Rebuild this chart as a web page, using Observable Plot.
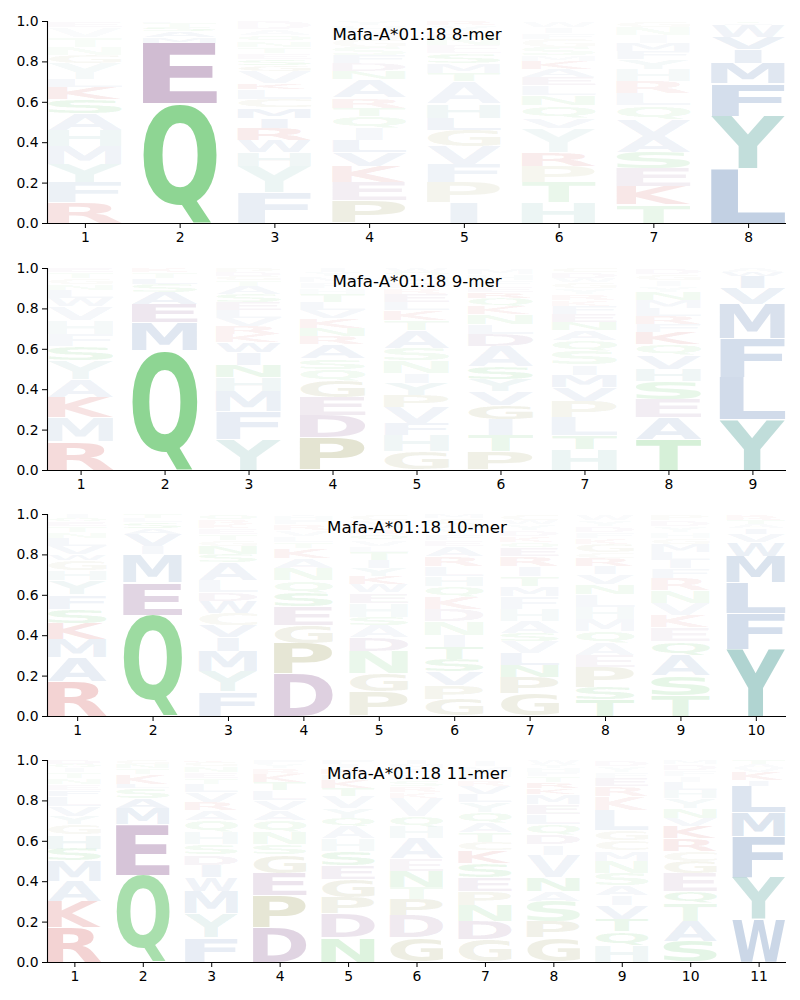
<!DOCTYPE html>
<html><head><meta charset="utf-8">
<script src="https://cdn.jsdelivr.net/npm/d3@7"></script>
<script src="https://cdn.jsdelivr.net/npm/@observablehq/plot@0.6"></script>
<style>body{margin:0;background:#fff} svg{display:block}</style>
</head><body><div id="chart"></div>
<script>
// Each column: letters from bottom to top, "A<height %>/<weight %>"
const titles = ["Mafa-A*01:18 8-mer", "Mafa-A*01:18 9-mer", "Mafa-A*01:18 10-mer", "Mafa-A*01:18 11-mer"];

const mer8 = [
  "R10/14 F10/12 Y9/12 M9/11 H8/10 A8/10 S7/10 K6/10 L4/8 Y8/8 G4/6 N4/5 T5/5 V5/5 E3/5",
  "Q59/55 E30/40 M3/8 A3/7 S2/6 T2/5 L1/5",
  "F15/14 Y13/12 H7/10 W6/10 R6/10 I5/9 M5/9 C4/8 L5/8 K3/7 V6/7 G3/6 S3/6 E3/5 T3/5 N3/5 Q3/5 A3/5 D4/5",
  "P11/16 E9/10 K8/10 V7/10 L6/9 I6/8 Q6/8 T4/6 R5/7 A9/9 N4/6 D4/6 F4/6 S4/5 G4/5 M4/5 H3/5 Y2/5",
  "I10/12 P10/10 F9/10 V9/10 G8/10 L6/9 H7/9 A11/9 T4/6 M5/6 S5/6 E4/5 N4/5 K3/5 Y3/5 R2/5",
  "H10/12 T10/10 P8/9 R7/9 Y12/9 V5/7 Q6/7 N5/6 L5/6 E4/6 A4/6 K4/6 M3/5 S4/5 G4/5 F3/5 I3/5 W3/5",
  "T9/10 K9/12 E9/10 S8/10 A8/10 V8/10 Q7/8 L6/8 R6/8 H6/8 Y5/7 F4/6 M4/6 I4/5 N4/5 G3/5",
  "L27/40 Y26/39 F16/28 M10/20 I7/14 V6/12 W6/10 A1/5 T1/5"
];

const mer9 = [
  "R14/18 M12/12 K10/14 A9/10 Y9/10 S7/9 F6/8 H7/8 V7/8 W4/6 L4/6 N3/5 G3/5 T3/5 E2/5",
  "Q59/55 M14/20 E9/14 A6/10 S4/6 L3/6 T3/5 K2/5",
  "Y15/18 F14/15 M10/13 H7/10 N6/9 I6/9 W5/9 K4/8 R4/8 V4/6 L4/6 E4/6 S4/6 A4/6 T3/5 G2/5 D2/5 P2/5",
  "P16/26 D11/16 E9/12 G8/12 Q6/8 S5/8 A7/9 R4/7 N4/7 K5/7 V4/6 L4/6 T4/6 H3/5 F3/5 M3/5 Y2/5 I2/5",
  "G9/12 H8/10 F6/9 V8/10 P6/9 Y6/9 I5/8 N6/8 S6/8 A9/9 T5/7 K5/7 L4/6 E4/6 R3/5 D3/5 M3/5 Q2/5 W2/5",
  "P9/14 T8/10 I8/10 G7/12 V7/9 Y6/9 S6/9 A10/9 D6/9 L5/8 N5/7 K4/6 Q4/6 R3/6 E3/5 F3/5 H3/5 M3/5",
  "H10/12 T7/10 L9/10 P8/11 V7/9 M6/9 I5/8 S7/8 Q5/7 A5/7 N4/6 E4/6 F4/6 K3/5 R3/5 Y3/5 G3/5 W2/5 D3/5 C2/5",
  "T15/20 A11/14 E9/11 S9/11 H6/9 V7/9 Q5/8 K6/9 F4/6 R4/7 L4/6 M4/6 N4/6 Y3/5 I3/5 G3/5 D3/5",
  "Y25/40 L21/30 F19/28 M17/25 V8/14 I6/12 W2/6 A2/5"
];

const mer10 = [
  "R17/22 A12/14 M9/12 K8/12 S7/10 F7/9 Y7/9 H5/8 G5/8 W3/6 V4/6 L4/6 N3/5 T3/5 E2/5 Q2/5 I2/5",
  "Q50/48 E16/25 M14/18 I4/8 V6/10 A3/6 S3/6 L2/5 T2/5",
  "F12/15 Y10/13 M10/12 I7/10 V6/9 C6/8 W6/9 D4/7 L6/8 A9/9 S4/6 N4/6 G3/5 T3/5 E3/5 K2/5 R2/5 Q3/5",
  "D21/28 P15/24 G9/14 E9/12 S7/10 Q6/8 N6/8 A5/7 K5/7 T3/5 L3/5 V3/5 R3/5 F2/5 H2/5 I1/5",
  "P12/16 G9/13 N11/10 D7/9 A6/8 S4/7 H7/8 E5/7 W4/7 K4/7 Y4/7 I4/6 T4/6 L3/5 V3/5 Q3/5 R2/5 F2/5 M3/5 C3/5",
  "G8/12 P7/11 V7/9 S6/9 T6/9 I6/8 N7/8 D6/8 K6/8 Q5/7 H5/7 L5/7 R5/7 A5/7 E3/5 F3/5 Y3/5 W2/5 C3/5 M2/5",
  "G11/15 P8/12 N6/9 L6/9 V6/8 S4/7 A6/8 H6/8 F6/8 M5/7 T5/7 I5/7 R5/7 E4/6 Q3/5 K3/5 D3/5 Y3/5 W2/5 C3/5",
  "T8/12 S6/10 P10/12 E6/8 A6/8 Q6/8 M6/8 H6/8 L6/8 N5/7 V5/7 I4/7 R4/6 C3/5 G4/6 K3/5 F3/5 D3/5 Y3/5 W3/5",
  "T10/12 S10/12 A10/12 Q7/9 E7/8 K6/8 V6/8 N6/7 R6/7 F5/6 I4/6 L4/6 M4/6 G3/5 H3/5 Y3/5 D3/5 P3/5",
  "Y33/50 F18/28 L15/26 M13/24 W7/12 V4/8 I3/6 A2/5 T2/5 R2/5 K1/5"
];

const mer11 = [
  "R17/22 K13/18 A10/12 M10/12 S6/9 H7/9 G5/8 Y4/7 V5/7 L5/7 F3/6 E3/5 N3/5 T3/5 I2/5 Q2/5 D2/5",
  "Q43/42 E25/35 M8/14 A5/9 S5/8 L2/6 K5/7 T3/5 N2/5 G2/5",
  "F12/15 Y12/14 M11/14 W7/10 I6/9 D5/8 S5/8 H6/8 Q6/8 A5/7 R4/7 V5/7 L4/6 T3/5 E3/5 N3/5 G2/5 K1/5",
  "D17/26 P16/24 E11/16 G9/12 S5/8 N6/8 Q6/8 A5/7 V5/7 L5/7 T4/6 K4/6 R3/5 Y2/5 F2/5",
  "N12/16 D12/16 P8/12 G9/12 E7/10 S7/10 H6/8 A6/8 Q4/7 Y5/7 V6/7 T4/6 K4/6 L3/5 R3/5 I2/5 F2/5",
  "G12/16 D11/14 P8/12 T6/8 N8/9 E6/8 A10/9 H6/8 Q5/7 V9/8 K3/5 R3/5 S3/5 L3/5 F3/5 M2/5 I2/5",
  "G11/15 D9/13 N8/10 P7/11 E7/10 S7/9 K6/9 C4/7 T5/7 A5/7 Q5/7 Y5/7 L4/6 V4/6 R3/5 F2/5 H2/5 M3/5 I3/5",
  "G12/15 P8/12 S10/10 A5/8 N7/9 V11/10 I5/8 D5/8 Q5/7 L5/7 E5/7 M5/7 K3/6 R3/6 T3/5 F2/5 H2/5 Y2/5 W2/5",
  "H8/10 Q7/9 T6/9 V7/9 I5/8 A5/8 S6/8 N6/8 M5/8 C5/7 G5/7 L10/10 K7/8 R5/6 E4/6 F3/5 Y3/5 D3/5",
  "S10/13 A10/13 T9/11 Q6/9 E9/10 G6/9 C5/8 R6/9 K6/9 V4/7 N5/7 Y5/7 H4/6 L4/6 I3/5 F3/5 D3/5 M2/5",
  "W21/34 Y21/32 F20/32 M12/22 L13/22 I3/7 K4/8 V2/5 A2/5 T2/5"
];

const panels = [mer8, mer9, mer10, mer11];
const yTicks = [0, 0.2, 0.4, 0.6, 0.8, 1.0];

// amino-acid colour groups
const groupColors = {acidic: "#89578e", polar: "#32b33b", hydrophobic: "#6689b9", aromatic: "#61a9a3", special: "#969650", basic: "#c83737"};
const aaGroup = {D:"acidic", E:"acidic", Q:"polar", N:"polar", S:"polar", T:"polar",
  A:"hydrophobic", V:"hydrophobic", L:"hydrophobic", I:"hydrophobic", M:"hydrophobic", F:"hydrophobic", W:"hydrophobic",
  Y:"aromatic", H:"aromatic", G:"special", P:"special", C:"special", K:"basic", R:"basic"};

function parseColumn(s) {
  return s.trim().split(/\s+/).map(t => {
    const [h, w] = t.slice(1).split("/");
    return {aa: t[0], h: +h / 100, w: +w / 100};
  });
}

// glyph ink metrics
const ctx = document.createElement("canvas").getContext("2d");
ctx.font = "bold 100px 'DejaVu Sans'";
ctx.textAlign = "left";
ctx.textBaseline = "alphabetic";
const metricCache = {};
function glyph(ch) {
  if (!metricCache[ch]) {
    const t = ctx.measureText(ch);
    metricCache[ch] = {l: t.actualBoundingBoxLeft, r: t.actualBoundingBoxRight, a: t.actualBoundingBoxAscent, d: t.actualBoundingBoxDescent};
  }
  return metricCache[ch];
}

function logoMark(columns) {
  return (index, scales) => {
    const g = d3.create("svg:g").attr("text-anchor", "start");
    const E = glyph("E");
    const eW = E.l + E.r;
    columns.forEach((col, i) => {
      let base = 0;
      for (const d of col) {
        const xl = scales.x(i + 1 - 0.39), xr = scales.x(i + 1 + 0.39);
        const yb = scales.y(base) - 0.35, yt = scales.y(base + d.h) + 0.35;
        base += d.h;
        const m = glyph(d.aa);
        const inkW = m.l + m.r, inkH = m.a + m.d;
        const boxW = xr - xl;
        const sx = Math.min(boxW / inkW, boxW / eW);
        const x0 = xl + (boxW - sx * inkW) / 2;
        const sy = Math.max(yb - yt, 0.05) / inkH;
        g.append("text")
          .attr("transform", `translate(${x0},${yt}) scale(${sx},${sy}) translate(${m.l},${m.a})`)
          .attr("text-anchor", "start")
          .attr("font-family", "DejaVu Sans").attr("font-weight", "bold").attr("font-size", 100)
          .attr("fill", groupColors[aaGroup[d.aa]]).attr("fill-opacity", d.w)
          .text(d.aa);
      }
    });
    return g.node();
  };
}

const heights = [247, 246, 246, 261];
const chart = document.getElementById("chart");
panels.forEach((raw, k) => {
  const cols = raw.map(parseColumn);
  const n = cols.length;
  const H = heights[k];
  const plot = Plot.plot({
    width: 800, height: H,
    marginTop: 21, marginBottom: H - 21 - 202, marginLeft: 47, marginRight: 14,
    style: {fontFamily: "DejaVu Sans", fontSize: "13.9px", color: "black", background: "white", overflow: "visible"},
    x: {domain: [0.6, n + 0.4], ticks: d3.range(1, n + 1), tickFormat: d => String(d), label: null, tickSize: 5, tickPadding: 4},
    y: {domain: [0, 1], ticks: yTicks, tickFormat: d => d.toFixed(1), label: null, tickSize: 5, tickPadding: 4},
    marks: [
      logoMark(cols),
      Plot.ruleX([0.6], {stroke: "black", strokeWidth: 1.1}),
      Plot.ruleY([0], {stroke: "black", strokeWidth: 1.1}),
      Plot.text([titles[k]], {frameAnchor: "top", lineAnchor: "top", dy: 7, fontSize: 16.67, fill: "black"})
    ]
  });
  chart.appendChild(plot);
});
</script>
</body></html>
